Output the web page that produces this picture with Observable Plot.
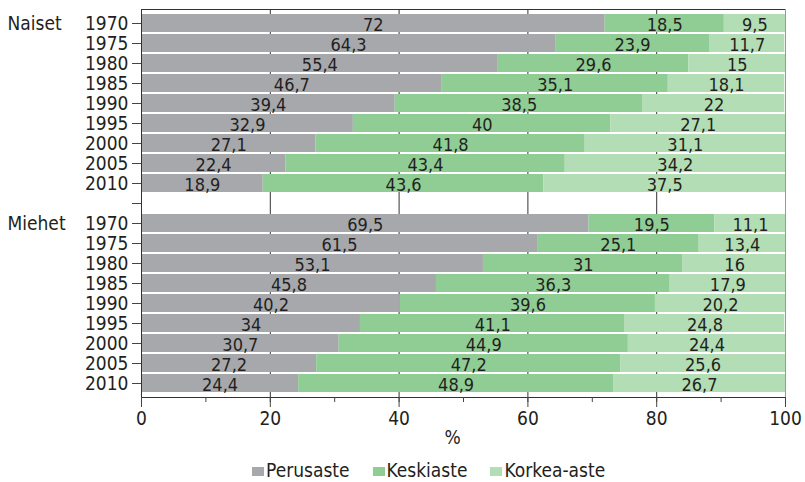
<!DOCTYPE html>
<html>
<head>
<meta charset="utf-8">
<script src="https://cdn.jsdelivr.net/npm/d3@7"></script>
<script src="https://cdn.jsdelivr.net/npm/@observablehq/plot@0.6"></script>
<style>
  body { margin: 0; background: #fff; font-family: "DejaVu Sans Condensed", "DejaVu Sans", sans-serif; font-stretch: condensed; color: #231f20; }
  #chart { position: relative; width: 805px; height: 482px; }
  #legend { position: absolute; left: 252px; top: 459px; display: flex; align-items: center; font-size: 19px; line-height: 22px; }
  .item { display: flex; align-items: center; margin-right: 23px; }
  .sw { width: 12px; height: 9px; margin-right: 2px; margin-top: 3px; }
</style>
</head>
<body>
<div id="chart"></div>
<script>
const years = [1970, 1975, 1980, 1985, 1990, 1995, 2000, 2005, 2010];
const levels = ["Perusaste", "Keskiaste", "Korkea-aste"];
const colors = ["#a7a8ac", "#8fcd95", "#b3ddb4"];
const groups = ["Naiset", "Miehet"];

const naisetPerusaste = [72, 64.3, 55.4, 46.7, 39.4, 32.9, 27.1, 22.4, 18.9];
const naisetKeskiaste = [18.5, 23.9, 29.6, 35.1, 38.5, 40, 41.8, 43.4, 43.6];
const naisetKorkea = [9.5, 11.7, 15, 18.1, 22, 27.1, 31.1, 34.2, 37.5];
const miehetPerusaste = [69.5, 61.5, 53.1, 45.8, 40.2, 34, 30.7, 27.2, 24.4];
const miehetKeskiaste = [19.5, 25.1, 31, 36.3, 39.6, 41.1, 44.9, 47.2, 48.9];
const miehetKorkea = [11.1, 13.4, 16, 17.9, 20.2, 24.8, 24.4, 25.6, 26.7];

const series = {
  Naiset: [naisetPerusaste, naisetKeskiaste, naisetKorkea],
  Miehet: [miehetPerusaste, miehetKeskiaste, miehetKorkea]
};

const keyOf = (g, y) => g[0] + y;
const keys = [
  ...years.map(y => keyOf("Naiset", y)),
  "gap",
  ...years.map(y => keyOf("Miehet", y))
];

const data = [];
for (const g of groups) {
  years.forEach((y, i) => {
    levels.forEach((lev, j) => {
      data.push({ key: keyOf(g, y), group: g, year: y, level: lev, value: series[g][j][i] });
    });
  });
}
const groupLabels = groups.map(g => ({ key: keyOf(g, years[0]), label: g }));

const fmt = v => String(v).replace(".", ",");
const ink = "#231f20";

const chart = Plot.plot({
  width: 805,
  height: 459,
  marginLeft: 141,
  marginRight: 20,
  marginTop: 9,
  marginBottom: 62,
  style: { fontFamily: '"DejaVu Sans Condensed", "DejaVu Sans", sans-serif', fontStretch: "condensed", color: ink, background: "#fff" },
  x: { domain: [0, 100] },
  y: { domain: keys, paddingInner: 0.1, paddingOuter: 0.05 },
  color: { domain: levels, range: colors },
  marks: [
    Plot.ruleX([20, 40, 60, 80], { stroke: "#333", strokeWidth: 1 }),
    Plot.barX(data, { x: "value", y: "key", fill: "level" }),
    Plot.text(data, Plot.stackX({ x: "value", y: "key", z: "level", text: d => fmt(d.value), fontSize: 18, fill: ink, dy: 2 })),
    Plot.frame({ stroke: "#333" }),
    Plot.ruleX([100], { stroke: "#999" }),
    Plot.axisY({ ticks: keys, tickFormat: k => (k === "gap" ? "" : k.slice(1)), tickSize: 9, tickPadding: 4, fontSize: 19, label: null, stroke: "#444" }),
    Plot.text(groupLabels, { y: "key", text: "label", frameAnchor: "left", dx: -134, textAnchor: "start", fontSize: 19, fill: ink }),
    Plot.axisX({ ticks: d3.range(0, 101, 10), tickSize: 5, tickFormat: () => "", label: null, stroke: "#444" }),
    Plot.axisX({ ticks: d3.range(0, 101, 20), tickSize: 10, tickPadding: 4, fontSize: 19, label: null, stroke: "#444" }),
    Plot.text(["%"], { frameAnchor: "bottom", dx: -11, dy: 46, fontSize: 19, fill: ink })
  ]
});

const root = document.getElementById("chart");
root.appendChild(chart);

const legend = document.createElement("div");
legend.id = "legend";
levels.forEach((lev, i) => {
  const item = document.createElement("div");
  item.className = "item";
  const sw = document.createElement("span");
  sw.className = "sw";
  sw.style.background = colors[i];
  const t = document.createElement("span");
  t.textContent = lev;
  item.appendChild(sw);
  item.appendChild(t);
  legend.appendChild(item);
});
root.appendChild(legend);
</script>
</body>
</html>
